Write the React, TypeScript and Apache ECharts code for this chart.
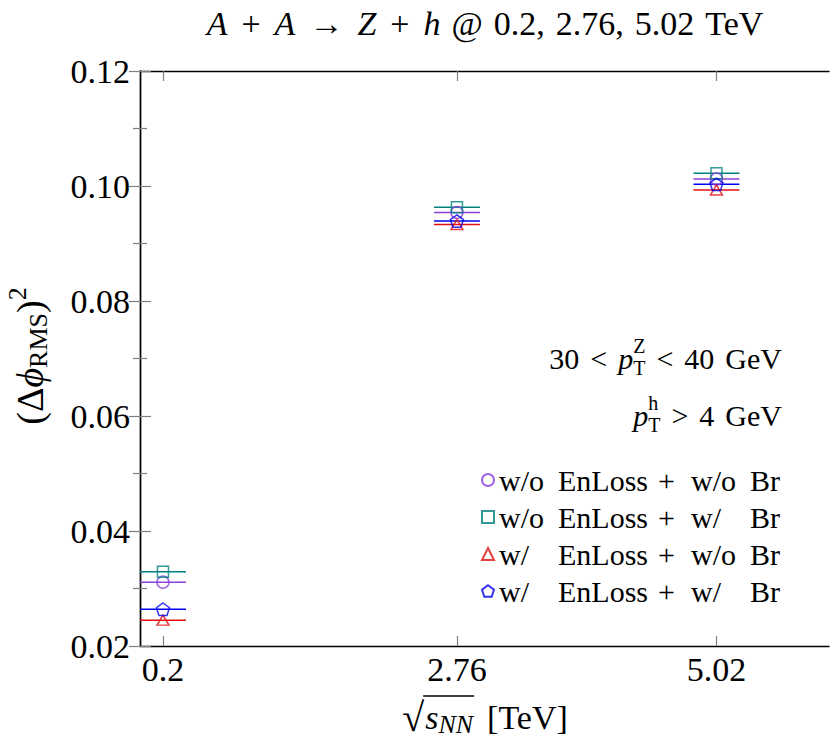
import React, { useEffect, useRef } from 'react';
import * as echarts from 'echarts';

// ---------------- data ----------------
const energies = [0.2, 2.76, 5.02];
const xTickLabels = ['0.2', '2.76', '5.02'];
const xErr = 0.2;
const enLossLabels = ['w/o', 'w/o', 'w/', 'w/'];
const brLabels = ['w/o', 'w/', 'w/o', 'w/'];
const noLossNoBr = [0.0311, 0.0954, 0.1012];
const noLossWithBr = [0.0329, 0.0963, 0.1022];
const withLossNoBr = [0.0245, 0.0933, 0.0993];
const withLossWithBr = [0.0264, 0.0939, 0.1003];
const seriesValues = [noLossNoBr, noLossWithBr, withLossNoBr, withLossWithBr];
const seriesNames = enLossLabels.map((a, k) => `${a} EnLoss + ${brLabels[k]} Br`);
const seriesColors = ['#8b3fdc', '#008080', '#e01010', '#0000ee'];
const PENTAGON = 'path://M0,-1 L0.951,-0.309 L0.588,0.809 L-0.588,0.809 L-0.951,-0.309 Z';
const seriesSymbols = ['circle', 'rect', 'triangle', PENTAGON];
const seriesSymbolSizes: any[] = [12, 11, [12, 10], 13];

const FF = 'Liberation Serif';

// ---------------- text layout helper ----------------
type Piece = { t: string; s: number; i?: boolean; dy?: number; stack?: boolean; g?: number };
let ctx: CanvasRenderingContext2D | null = null;
function tw(t: string, s: number, i?: boolean) {
  if (!ctx) ctx = document.createElement('canvas').getContext('2d');
  ctx!.font = `${i ? 'italic ' : ''}${s}px "Liberation Serif"`;
  return ctx!.measureText(t).width;
}
function compose(pieces: Piece[], x0: number, y0: number, align: 'left' | 'right' | 'center') {
  let x = 0;
  let pending = 0;
  const pos: number[] = [];
  const widths: number[] = [];
  for (const p of pieces) {
    const w = tw(p.t, p.s, p.i);
    widths.push(w);
    pos.push(x);
    if (p.stack) pending = Math.max(pending, w);
    else {
      x += Math.max(w, pending) + (p.g || 0);
      pending = 0;
    }
  }
  const total = x;
  const off = align === 'left' ? 0 : align === 'right' ? -total : -total / 2;
  const children = pieces.map((p, k) => ({
    type: 'text',
    x: x0 + off + pos[k],
    y: y0 + (p.dy || 0),
    silent: true,
    style: {
      text: p.t,
      fontSize: p.s,
      fontFamily: FF,
      fontStyle: p.i ? 'italic' : 'normal',
      fill: '#000',
      align: 'left',
      verticalAlign: 'middle',
    },
  }));
  return { children, total, start: x0 + off, pos, widths };
}

export default function App() {
  const ref = useRef<HTMLDivElement>(null);
  useEffect(() => {
    document.body.style.margin = '0';
    const chart = echarts.init(ref.current!, null, { renderer: 'svg' });

    const TS = 34;
    const MG = 14;
    const TG = 11;
    const title = compose(
      [
        { t: 'A', s: TS, i: true, g: MG },
        { t: '+', s: TS, g: MG },
        { t: 'A', s: TS, i: true, g: MG },
        { t: '\u2192', s: TS, g: MG },
        { t: 'Z', s: TS, i: true, g: MG },
        { t: '+', s: TS, g: MG },
        { t: 'h', s: TS, i: true, g: TG },
        { t: '@', s: TS, g: TG },
        { t: '0.2,', s: TS, g: TG },
        { t: '2.76,', s: TS, g: TG },
        { t: '5.02', s: TS, g: TG },
        { t: 'TeV', s: TS },
      ],
      485,
      23,
      'center'
    );

    const yName = compose(
      [
        { t: '(', s: 38 },
        { t: '\u0394', s: 38 },
        { t: '\u03d5', s: 38, i: true },
        { t: 'RMS', s: 26, dy: 8 },
        { t: ')', s: 38 },
        { t: '2', s: 26, dy: -13 },
      ],
      0,
      0,
      'center'
    );

    const xName = compose(
      [
        { t: '\u221a', s: 40, g: 1 },
        { t: 's', s: 34, i: true },
        { t: 'NN', s: 26, i: true, dy: 7, g: 14 },
        { t: '[TeV]', s: 34 },
      ],
      485,
      717,
      'center'
    );
    const barX1 = xName.start + xName.pos[1] - 2;
    const barX2 = xName.start + xName.pos[2] + xName.widths[2] + 1;

    const AS = 30;
    const AG = 11;
    const ann1 = compose(
      [
        { t: '30', s: AS, g: AG },
        { t: '<', s: AS, g: AG },
        { t: 'p', s: AS, i: true },
        { t: 'Z', s: 20, stack: true, dy: -12 },
        { t: 'T', s: 20, dy: 10, g: AG },
        { t: '<', s: AS, g: AG },
        { t: '40', s: AS, g: AG },
        { t: 'GeV', s: AS },
      ],
      782,
      358,
      'right'
    );
    const ann2 = compose(
      [
        { t: 'p', s: AS, i: true },
        { t: 'h', s: 20, stack: true, dy: -12 },
        { t: 'T', s: 20, dy: 10, g: AG },
        { t: '>', s: AS, g: AG },
        { t: '4', s: AS, g: AG },
        { t: 'GeV', s: AS },
      ],
      782,
      415,
      'right'
    );

    const tickStyle = { color: '#808080', width: 1.2 };
    const axisLine = { show: true, lineStyle: { color: '#000', width: 1.4 } };
    const grid = { left: 140, top: 71, right: 2, bottom: 104 };

    const scatterSeries = seriesNames.map((name, k) => ({
      name,
      type: 'scatter',
      xAxisIndex: 0,
      yAxisIndex: 0,
      symbol: seriesSymbols[k],
      symbolSize: seriesSymbolSizes[k],
      symbolKeepAspect: true,
      z: 5 + k,
      itemStyle: { color: 'transparent', borderColor: seriesColors[k], borderWidth: 1.5 },
      data: energies.map((e, j) => [e, seriesValues[k][j]]),
    }));

    const errSeries = seriesNames.map((name, k) => ({
      type: 'custom',
      xAxisIndex: 0,
      yAxisIndex: 0,
      z: 2,
      silent: true,
      renderItem: (params: any, api: any) => {
        const x = api.value(0);
        const y = api.value(1);
        const e = api.value(2);
        const p1 = api.coord([x - e, y]);
        const p2 = api.coord([x + e, y]);
        return {
          type: 'line',
          shape: { x1: p1[0], y1: p1[1], x2: p2[0], y2: p2[1] },
          style: { stroke: seriesColors[k], lineWidth: 1.5 },
        };
      },
      data: energies.map((e, j) => [e, seriesValues[k][j], xErr]),
    }));

    const LS = 30;
    const option: any = {
      animation: false,
      backgroundColor: '#fff',
      grid,
      xAxis: [
        {
          type: 'value',
          min: 0,
          max: 6,
          position: 'bottom',
          axisLine,
          splitLine: { show: false },
          axisTick: { show: true, inside: true, length: 10, lineStyle: tickStyle, customValues: energies },
          axisLabel: {
            customValues: energies,
            margin: 6,
            fontSize: 34,
            fontFamily: FF,
            color: '#000',
            formatter: (v: number) => {
              const k = energies.findIndex((e) => Math.abs(e - v) < 1e-6);
              return k >= 0 ? xTickLabels[k] : '';
            },
          },
        },
        {
          type: 'value',
          min: 0,
          max: 6,
          position: 'top',
          axisLine,
          splitLine: { show: false },
          axisTick: { show: true, inside: true, length: 10, lineStyle: tickStyle, customValues: energies },
          axisLabel: { show: false },
        },
      ],
      yAxis: [
        {
          type: 'value',
          min: 0.02,
          max: 0.12,
          interval: 0.02,
          position: 'left',
          axisLine,
          splitLine: { show: false },
          axisTick: { show: true, inside: true, length: 11, lineStyle: tickStyle },
          minorTick: { show: true, splitNumber: 2, length: 7, lineStyle: tickStyle },
          axisLabel: {
            margin: 10,
            fontSize: 34,
            fontFamily: FF,
            color: '#000',
            formatter: (v: number) => v.toFixed(2),
          },
        },
        {
          type: 'value',
          min: 0.02,
          max: 0.12,
          interval: 0.02,
          position: 'right',
          axisLine,
          splitLine: { show: false },
          axisTick: { show: true, inside: true, length: 11, lineStyle: tickStyle },
          minorTick: { show: true, splitNumber: 2, length: 7, lineStyle: tickStyle },
          axisLabel: { show: false },
        },
      ],
      legend: {
        orient: 'vertical',
        left: 481,
        top: 465,
        padding: 0,
        itemWidth: 12,
        itemHeight: 12,
        itemGap: 7,
        itemTextGap: 5,
        selectedMode: false,
        data: seriesNames,
        textStyle: {
          fontFamily: FF,
          fontSize: LS,
          color: '#000',
          rich: {
            a: { width: 59, fontSize: LS, fontFamily: FF, lineHeight: 30 },
            b: { width: 100, fontSize: LS, fontFamily: FF, lineHeight: 30 },
            p: { width: 33, fontSize: LS, fontFamily: FF, lineHeight: 30 },
            c: { width: 59, fontSize: LS, fontFamily: FF, lineHeight: 30 },
            d: { fontSize: LS, fontFamily: FF, lineHeight: 30 },
          },
        },
        formatter: (name: string) => {
          const k = seriesNames.indexOf(name);
          return `{a|${enLossLabels[k]}}{b|EnLoss}{p|+}{c|${brLabels[k]}}{d|Br}`;
        },
      },
      graphic: [
        ...title.children,
        { type: 'group', x: 30, y: 356, rotation: Math.PI / 2, children: yName.children },
        ...xName.children,
        {
          type: 'line',
          silent: true,
          shape: { x1: barX1, y1: 696, x2: barX2, y2: 696 },
          style: { stroke: '#000', lineWidth: 1.3 },
        },
        ...ann1.children,
        ...ann2.children,
      ],
      series: [...errSeries, ...scatterSeries],
    };
    chart.setOption(option);
    return () => chart.dispose();
  }, []);
  return <div ref={ref} style={{ width: 831, height: 750 }} />;
}
